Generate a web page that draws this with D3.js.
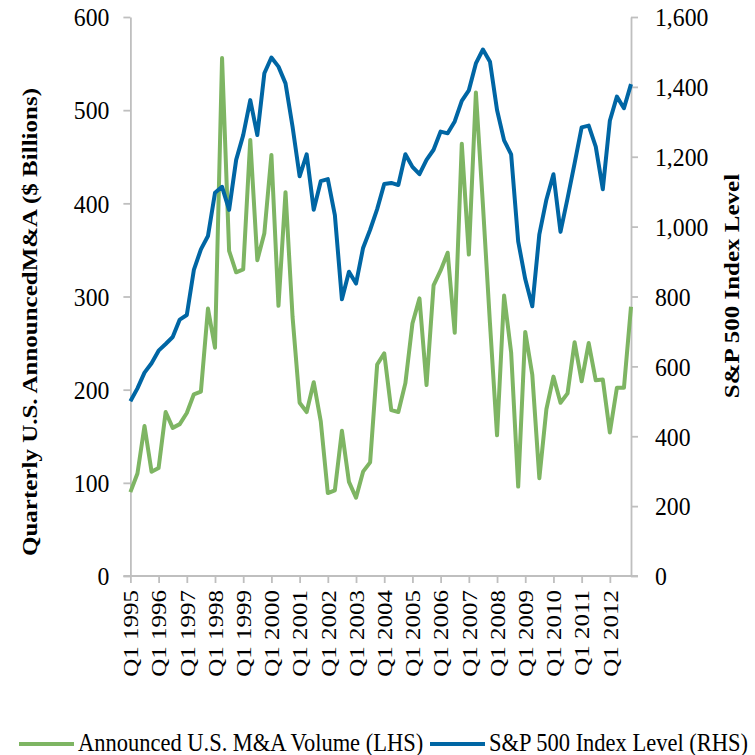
<!DOCTYPE html>
<html>
<head>
<meta charset="utf-8">
<script src="https://cdn.jsdelivr.net/npm/d3@7/dist/d3.min.js"></script>
<style>
    body { margin: 0; background: #fff; }
    svg text { font-family: 'Liberation Serif', 'Times New Roman', serif; fill: #000; }
</style>
</head>
<body>
<svg id="chart" width="755" height="755"></svg>
<script>
const years = [1995, 1996, 1997, 1998, 1999, 2000, 2001, 2002, 2003,
               2004, 2005, 2006, 2007, 2008, 2009, 2010, 2011, 2012];
const quarters = years.flatMap(y => ["Q1", "Q2", "Q3", "Q4"].map(q => q + " " + y));
const tickLabels = years.map(y => "Q1 " + y);

// announced U.S. M&A volume, $ billions (LHS)
const maVolume = [90, 110, 161, 112, 116, 176, 159, 163, 175, 195,
                  198, 287, 245, 556, 349, 326, 329, 468, 339, 368,
                  452, 290, 412, 278, 186, 176, 208, 166, 89, 92,
                  156, 101, 84, 112, 122, 227, 239, 178, 176, 207,
                  271, 298, 205, 312, 328, 347, 261, 464, 345, 519,
                  398, 271, 151, 301, 240, 96, 262, 216, 105, 179,
                  214, 186, 196, 251, 209, 250, 210, 211, 154, 202,
                  202, 289];

// S&P 500 index level (RHS)
const spIndex = [500, 537, 582, 609, 645, 664, 684, 734, 747, 876,
                 935, 973, 1097, 1114, 1048, 1191, 1262, 1362, 1262, 1439,
                 1484, 1458, 1410, 1286, 1144, 1207, 1048, 1130, 1136, 1033,
                 792, 871, 837, 939, 991, 1050, 1122, 1125, 1119, 1207,
                 1171, 1150, 1191, 1220, 1272, 1267, 1301, 1360, 1390, 1467,
                 1507, 1472, 1334, 1247, 1207, 958, 850, 772, 978, 1077,
                 1150, 985, 1081, 1181, 1284, 1289, 1229, 1107, 1303, 1372,
                 1339, 1408];

const leftTicks = [0, 100, 200, 300, 400, 500, 600];
const rightTicks = [0, 200, 400, 600, 800, 1000, 1200, 1400, 1600];

const plotLeft = 130.4, plotRight = 631, plotTop = 17, plotBottom = 576;
const squeeze = 0.83;      // rotated texts: glyphs a bit thinner than tall
const numSqueeze = 0.95;   // axis numbers
const legendSqueeze = 0.9;
const fontSize = 25;
const green = "#7eb563", blue = "#0066a4", axisGrey = "#bfbfbf";

const svg = d3.select("#chart");

const x = d3.scalePoint().domain(quarters).range([plotLeft, plotRight]);
const yL = d3.scaleLinear().domain([0, 600]).range([plotBottom, plotTop]);
const yR = d3.scaleLinear().domain([0, 1600]).range([plotBottom, plotTop]);

function styleAxis(g) {
    g.select(".domain").attr("stroke", axisGrey).attr("stroke-width", 1.8);
    g.selectAll(".tick line").attr("stroke", axisGrey).attr("stroke-width", 1.8);
    g.selectAll(".tick text").attr("font-size", fontSize).attr("fill", "#000");
}

const gLeft = svg.append("g")
    .attr("transform", `translate(${plotLeft},0)`)
    .call(d3.axisLeft(yL).tickValues(leftTicks).tickSize(7).tickSizeOuter(0))
    .call(styleAxis);
gLeft.selectAll(".tick text")
    .attr("x", 0)
    .attr("dy", "0.35em")
    .attr("text-anchor", "end")
    .attr("transform", `translate(-21,0) scale(${numSqueeze},1)`);

const gRight = svg.append("g")
    .attr("transform", `translate(${plotRight},0)`)
    .call(d3.axisRight(yR).tickValues(rightTicks).tickSize(7).tickSizeOuter(0)
        .tickFormat(d3.format(",")))
    .call(styleAxis);
gRight.selectAll(".tick text")
    .attr("x", 0)
    .attr("dy", "0.35em")
    .attr("text-anchor", "start")
    .attr("transform", `translate(24,0) scale(${numSqueeze},1)`);

const gBottom = svg.append("g")
    .attr("transform", `translate(0,${plotBottom})`)
    .call(d3.axisBottom(x).tickValues(tickLabels).tickSize(7).tickSizeOuter(0))
    .call(styleAxis);
gBottom.select(".domain").attr("d", `M${plotLeft - 7},0H${plotRight + 7}`);
gBottom.selectAll(".tick text")
    .attr("x", 0)
    .attr("y", 0)
    .attr("dy", "0.35em")
    .attr("text-anchor", "end")
    .attr("transform", `translate(0,14) scale(${squeeze},1) rotate(-90)`);

const lineL = d3.line().x((d, i) => x(quarters[i])).y(d => yL(d));
const lineR = d3.line().x((d, i) => x(quarters[i])).y(d => yR(d));

svg.append("path")
    .datum(maVolume)
    .attr("d", lineL)
    .attr("fill", "none")
    .attr("stroke", green)
    .attr("stroke-width", 4)
    .attr("stroke-linejoin", "round");

svg.append("path")
    .datum(spIndex)
    .attr("d", lineR)
    .attr("fill", "none")
    .attr("stroke", blue)
    .attr("stroke-width", 4)
    .attr("stroke-linejoin", "round");

svg.append("text")
    .attr("transform", `translate(30,322) scale(${squeeze},1) rotate(-90)`)
    .attr("text-anchor", "middle")
    .attr("dy", "0.35em")
    .attr("font-size", fontSize)
    .attr("font-weight", "bold")
    .text("Quarterly U.S. AnnouncedM&A ($ Billions)");

svg.append("text")
    .attr("transform", `translate(732,286) scale(${squeeze},1) rotate(-90)`)
    .attr("text-anchor", "middle")
    .attr("dy", "0.35em")
    .attr("font-size", fontSize)
    .attr("font-weight", "bold")
    .text("S&P 500 Index Level");

const legendItems = [
    {label: "Announced U.S. M&A Volume (LHS)", color: green, x: 19},
    {label: "S&P 500 Index Level (RHS)", color: blue, x: 430}
];
const legend = svg.append("g")
    .selectAll("g")
    .data(legendItems)
    .enter().append("g")
    .attr("transform", d => `translate(${d.x},744)`);
legend.append("line")
    .attr("x1", 0).attr("x2", 55)
    .attr("stroke", d => d.color)
    .attr("stroke-width", 4);
legend.append("text")
    .attr("transform", `translate(59,0) scale(${legendSqueeze},1)`)
    .attr("dy", "0.28em")
    .attr("font-size", fontSize)
    .text(d => d.label);
</script>
</body>
</html>
